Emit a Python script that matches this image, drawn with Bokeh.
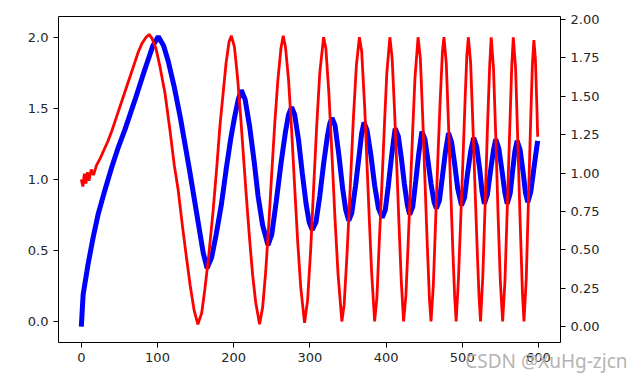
from bokeh.plotting import figure
from bokeh.models import Range1d, LinearAxis, FixedTicker, Title, PrintfTickFormatter
from bokeh.embed import file_html
from bokeh.resources import INLINE

# ---- data ----
red_x = [0, 2, 4, 6, 8, 10, 13, 16, 20, 25, 30, 35, 40, 45, 50, 55, 60, 65, 70, 75, 80, 85, 89, 93,
         98, 103, 110, 116, 122, 127, 133, 138, 143, 148, 153,
         158, 162, 167, 173, 178, 182, 186, 190, 194, 197,
         201, 205, 209, 213, 217, 221, 225, 229, 234,
         238, 242, 246, 250, 254, 258, 262, 265,
         268, 272, 276, 280, 284, 288, 293,
         297, 301, 305, 309, 313, 318,
         321, 325, 329, 333, 337, 342,
         345, 349, 353, 357, 361, 365,
         368, 372, 375, 378, 381, 385,
         388, 391, 394, 398, 401, 405,
         408, 411, 414, 417, 420, 423,
         426, 429, 432, 435, 438, 442,
         445, 448, 451, 454, 457, 459,
         462, 465, 468, 471, 474, 476,
         479, 482, 485, 488, 490, 492,
         495, 498, 501, 504, 506, 508,
         511, 514, 517, 520, 522, 524,
         527, 530, 533, 536, 538,
         541, 544, 547, 550, 553,
         556, 559, 562, 565, 567,
         570, 573, 576, 579, 581,
         584, 587, 590, 592, 594,
         596, 598, 599]
red_y = [1.0, 0.95, 1.04, 0.97, 1.05, 0.99, 1.07, 1.03, 1.1, 1.15, 1.21, 1.27, 1.34, 1.42, 1.5, 1.58, 1.66, 1.74, 1.82, 1.9, 1.96, 2.0, 2.02, 1.99,
         1.92, 1.8, 1.6, 1.36, 1.1, 0.93, 0.66, 0.45, 0.25, 0.08, -0.02,
         0.06, 0.22, 0.45, 0.78, 1.1, 1.38, 1.6, 1.82, 1.97, 2.01,
         1.93, 1.72, 1.45, 1.15, 0.85, 0.57, 0.32, 0.13, -0.02,
         0.1, 0.35, 0.68, 1.05, 1.4, 1.7, 1.92, 2.01,
         1.93, 1.7, 1.35, 0.95, 0.56, 0.24, -0.01,
         0.15, 0.5, 0.95, 1.38, 1.75, 2.0,
         1.92, 1.6, 1.17, 0.72, 0.33, 0.0,
         0.12, 0.5, 0.95, 1.42, 1.8, 2.0,
         1.9, 1.5, 1.1, 0.72, 0.35, 0.0,
         0.17, 0.55, 0.9, 1.4, 1.75, 2.0,
         1.85, 1.5, 1.1, 0.68, 0.28, 0.0,
         0.18, 0.55, 0.95, 1.35, 1.72, 2.0,
         1.85, 1.45, 1.0, 0.55, 0.15, 0.0,
         0.25, 0.7, 1.15, 1.55, 1.9, 2.0,
         1.82, 1.38, 0.9, 0.45, 0.18, 0.0,
         0.3, 0.72, 1.15, 1.6, 1.87, 2.0,
         1.82, 1.38, 0.9, 0.45, 0.18, 0.0,
         0.32, 0.82, 1.35, 1.8, 2.0,
         1.78, 1.3, 0.75, 0.28, 0.0,
         0.28, 0.78, 1.3, 1.8, 2.0,
         1.78, 1.25, 0.7, 0.2, 0.0,
         0.3, 0.88, 1.45, 1.8, 1.98,
         1.85, 1.5, 1.3]

blue_x = [0, 2.4, 9, 15.5, 22, 31, 40, 48, 57, 70, 83, 94, 101,
          108, 114, 122, 130, 142, 153, 160, 165,
          171, 177, 184, 190, 196, 201, 206, 210,
          215, 221, 227, 232, 238, 245,
          250, 256, 262, 268, 272, 276,
          280, 285, 290, 295, 299, 303,
          308, 313, 318, 323, 326, 329,
          333, 338, 343, 347, 351,
          355, 360, 365, 368, 371,
          375, 380, 385, 390, 395,
          399, 403, 407, 410, 412,
          416, 420, 424, 428, 431,
          435, 439, 443, 447,
          451, 455, 459, 463, 466,
          470, 474, 478, 482,
          486, 490, 494, 499,
          503, 507, 511, 515,
          519, 523, 526, 529,
          533, 537, 541, 544,
          548, 552, 556, 559,
          563, 566, 569, 572,
          576, 580, 583, 586,
          590, 594, 597, 599]
blue_y = [0.0, 0.21, 0.41, 0.58, 0.73, 0.89, 1.04, 1.16, 1.28, 1.47, 1.67, 1.83, 1.89,
          1.83, 1.73, 1.56, 1.36, 1.02, 0.69, 0.48, 0.38,
          0.45, 0.6, 0.8, 1.02, 1.22, 1.36, 1.48, 1.54,
          1.48, 1.3, 1.07, 0.85, 0.66, 0.53,
          0.6, 0.82, 1.06, 1.27, 1.38, 1.43,
          1.38, 1.22, 1.0, 0.8, 0.68, 0.63,
          0.68, 0.85, 1.06, 1.24, 1.32, 1.36,
          1.31, 1.12, 0.9, 0.76, 0.69,
          0.74, 0.92, 1.13, 1.26, 1.33,
          1.28, 1.12, 0.92, 0.77, 0.71,
          0.76, 0.92, 1.1, 1.22, 1.29,
          1.24, 1.1, 0.93, 0.79, 0.73,
          0.78, 0.95, 1.13, 1.27,
          1.22, 1.08, 0.93, 0.81, 0.77,
          0.82, 0.98, 1.14, 1.26,
          1.2, 1.06, 0.9, 0.79,
          0.84, 1.0, 1.14, 1.23,
          1.17, 1.02, 0.88, 0.8,
          0.86, 1.01, 1.15, 1.22,
          1.16, 1.02, 0.87, 0.8,
          0.87, 1.01, 1.14, 1.21,
          1.15, 1.0, 0.87, 0.81,
          0.88, 1.03, 1.14, 1.21]

x_ticks = [0, 100, 200, 300, 400, 500, 600]
left_ticks = [0.0, 0.5, 1.0, 1.5, 2.0]
right_ticks = [0.0, 0.25, 0.5, 0.75, 1.0, 1.25, 1.5, 1.75, 2.0]
watermark = "CSDN @XuHg-zjcn"

FONT = "DejaVu Sans"
TXT = "#262626"

p = figure(width=640, height=385, output_backend="svg", toolbar_location=None,
           x_range=Range1d(-29.95, 628.95), y_range=Range1d(-0.148, 2.146),
           min_border_left=58, min_border_right=80, min_border_top=16, min_border_bottom=43)
p.background_fill_color = "white"
p.border_fill_color = "white"
p.outline_line_color = "black"
p.outline_line_width = 1
p.xgrid.visible = False
p.ygrid.visible = False

p.extra_y_ranges = {"right": Range1d(-0.104, 2.02)}

p.line(blue_x, blue_y, color="#0000ff", line_width=5, y_range_name="right")
p.line(red_x, red_y, color="#ff0000", line_width=2.8)

def style(ax, ticks, fmt):
    ax.ticker = FixedTicker(ticks=ticks)
    ax.formatter = PrintfTickFormatter(format=fmt)
    ax.axis_line_color = None
    ax.major_tick_out = 5
    ax.major_tick_in = 0
    ax.minor_tick_out = 0
    ax.minor_tick_in = 0
    ax.major_tick_line_color = "black"
    ax.major_label_text_font = FONT
    ax.major_label_text_font_size = "13px"
    ax.major_label_text_color = TXT
    ax.major_label_standoff = 5

style(p.xaxis[0], x_ticks, "%d")
style(p.yaxis[0], left_ticks, "%.1f")
ra = LinearAxis(y_range_name="right")
style(ra, right_ticks, "%.2f")
p.add_layout(ra, "right")

wm = Title(text=watermark, align="right", offset=-67, standoff=-34, vertical_align="top",
           text_font="Noto Sans", text_font_size="19px", text_font_style="normal",
           text_color="#b4b4b4")
p.add_layout(wm, "below")

open("out.html", "w").write(file_html(p, INLINE))
